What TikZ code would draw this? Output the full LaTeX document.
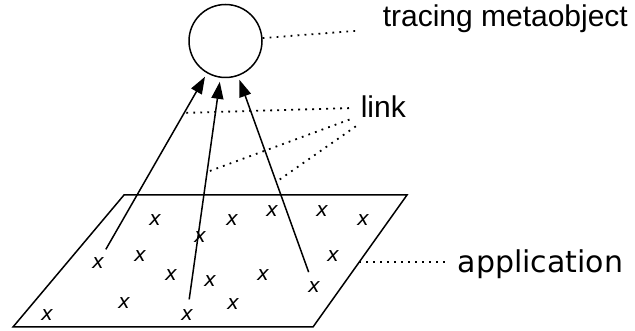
\documentclass[tikz,border=0pt]{standalone}
\usepackage{fontspec}
\setmainfont{Liberation Sans}
\newfontfamily\dejavu{DejaVu Sans}
\usetikzlibrary{arrows.meta,calc}
\begin{document}
\begin{tikzpicture}[x=1pt,y=-1pt,line width=1.5pt,
  pt/.style={font=\dejavu\itshape\fontsize{20}{20}\selectfont,circle,inner sep=0pt,minimum size=30pt},
  lbl/.style={font=\fontsize{30}{30}\selectfont,inner sep=3pt,anchor=base west},
  link/.style={-{Triangle[length=17pt,width=12pt]},shorten >=4pt},
  dots/.style={line width=1.8pt,dash pattern=on 1.8pt off 5.2pt}]
  \useasboundingbox (0,0) rectangle (635,331);
  \node[draw,circle,minimum size=73pt,inner sep=0pt] (meta) at (225.5,41) {};
  % the application plane
  \draw (124,195) -- (407,195) -- (313,327) -- (13,327) -- cycle;
  \coordinate (edge) at ($(407,195)!0.508!(313,327)$);
  \foreach \n/\a/\b in {1/155/220,2/232/220,3/272/211,4/322/211,5/363/220,6/200/237,
    7/140/256,8/98/263,9/333/256,10/171/275,11/210/281,12/263/275,13/314/287,
    14/124/303,15/233/304,16/47/315,17/187/315}
    \node[pt] (x\n) at (\a,\b) {x};
  \draw[link] (x8) -- (meta);
  \draw[link] (x17) -- (meta);
  \draw[link] (x13) -- (meta);
  \coordinate (l1) at ($(x8)!0.676!(meta)$);
  \coordinate (l2) at ($(x17)!0.522!(meta)$);
  \coordinate (l3) at ($(x13)!0.427!(meta)$);
  % labels
  \node[lbl] (tr) at (379,27) {tracing metaobject};
  \node[lbl] (lnk) at (357,118) {link};
  \node[lbl,font=\dejavu\fontsize{30}{30}\selectfont] (app) at (454,273) {application};
  \draw[dots,shorten >=21pt] (meta) -- (tr);
  \draw[dots,shorten <=8pt] (lnk) -- (l1);
  \draw[dots,shorten <=8pt] (lnk) -- (l2);
  \draw[dots,shorten <=8pt] (lnk) -- (l3);
  \draw[dots,shorten >=6pt] (edge) -- (edge -| app.west);
\end{tikzpicture}
\end{document}
